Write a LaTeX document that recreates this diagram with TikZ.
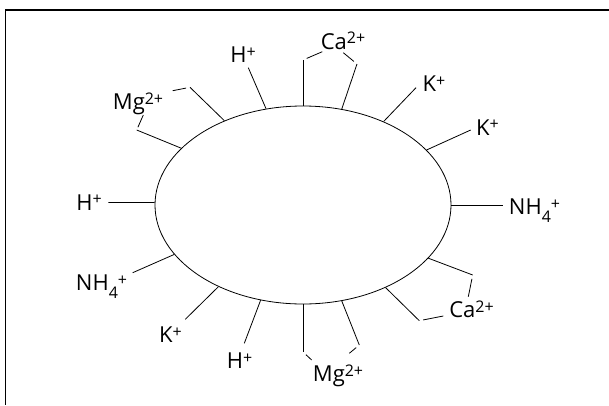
\documentclass[tikz,border=0pt]{standalone}
\usepackage{fontspec}
\setmainfont{Open Sans}
\usetikzlibrary{shapes.geometric,calc}
\newcommand{\ionsup}[1]{\raisebox{5.5pt}{\fontsize{16}{16}\selectfont #1}}
\newcommand{\ionsub}[1]{\raisebox{-8pt}{\fontsize{16}{16}\selectfont #1}}

\begin{document}
\begin{tikzpicture}[x=1pt,y=1pt, line width=0.8pt, every node/.style={font=\fontsize{22}{26}\selectfont, inner sep=0pt}]
    \useasboundingbox (-303,-200) rectangle (306,205);
    \draw[line width=1.6pt] (306,195) -- (-297.5,195) -- (-297.5,-200);
    \node[draw, ellipse, minimum width=296pt, minimum height=198pt] (colloid) at (0,0) {};
    % ions
    \node (hW) at (-214,2.5) {H\ionsup{+}};
    \node (nhW) at (-201.5,-81.7) {NH\ionsub{4}\ionsup{+}};
    \node (kSW) at (-132.5,-130) {K\ionsup{+}};
    \node (hS) at (-63.5,-156) {H\ionsup{+}};
    \node (mgS) at (35,-171) {Mg\ionsup{2+}};
    \node (caSE) at (168.5,-104.5) {Ca\ionsup{2+}};
    \node (nhE) at (231.5,-5.8) {NH\ionsub{4}\ionsup{+}};
    \node (kE) at (184.5,77.7) {K\ionsup{+}};
    \node (kNE) at (131,121) {K\ionsup{+}};
    \node (caN) at (40,164) {Ca\ionsup{2+}};
    \node (hN) at (-60,150) {H\ionsup{+}};
    \node (mgNW) at (-165,101) {Mg\ionsup{2+}};
    % line ends
    \coordinate (hWe) at (-194.7,2.6);
    \coordinate (nhWe) at (-170.3,-67.7);
    \coordinate (kSWe) at (-117.7,-114.3);
    \coordinate (hSe) at (-58.7,-138.3);
    \coordinate (mgS1) at (0,-147);
    \coordinate (mgS1e) at (8.7,-155);
    \coordinate (mgS2) at (56.3,-140);
    \coordinate (mgS2e) at (46.3,-148.3);
    \coordinate (caSE1) at (169.7,-70);
    \coordinate (caSE1e) at (165.3,-91.7);
    \coordinate (caSE2) at (116.3,-115.7);
    \coordinate (caSE2e) at (140.3,-111);
    \coordinate (nhEe) at (199.7,0);
    \coordinate (kEe) at (167.7,75);
    \coordinate (kNEe) at (113,117.3);
    \coordinate (caN1) at (0,145);
    \coordinate (caN1e) at (19.3,153.3);
    \coordinate (caN2) at (54,141);
    \coordinate (caN2e) at (40.3,152.3);
    \coordinate (hNe) at (-54.7,137.3);
    \coordinate (mgNW1) at (-113,117.7);
    \coordinate (mgNW1e) at (-130.3,114.3);
    \coordinate (mgNW2) at (-166.3,75);
    \coordinate (mgNW2e) at (-159.7,90);
    % single bonds
    \draw (colloid.179) -- (hWe);
    \draw (colloid.201.6) -- (nhWe);
    \draw (colloid.224.2) -- (kSWe);
    \draw (colloid.246.4) -- (hSe);
    \draw (colloid.0) -- (nhEe);
    \draw (colloid.24.5) -- (kEe);
    \draw (colloid.46.5) -- (kNEe);
    \draw (colloid.111.8) -- (hNe);
    % double bonds
    \draw (colloid.270) -- (mgS1);
    \draw ($(mgS1)!4pt!(mgS1e)$) -- (mgS1e);
    \draw (colloid.292.8) -- (mgS2);
    \draw ($(mgS2)!4pt!(mgS2e)$) -- (mgS2e);
    \draw (colloid.337.7) -- (caSE1);
    \draw ($(caSE1)!4pt!(caSE1e)$) -- (caSE1e);
    \draw (colloid.315.5) -- (caSE2);
    \draw ($(caSE2)!4pt!(caSE2e)$) -- (caSE2e);
    \draw (colloid.90) -- (caN1);
    \draw ($(caN1)!4pt!(caN1e)$) -- (caN1e);
    \draw (colloid.68.5) -- (caN2);
    \draw ($(caN2)!4pt!(caN2e)$) -- (caN2e);
    \draw (colloid.133.4) -- (mgNW1);
    \draw ($(mgNW1)!4pt!(mgNW1e)$) -- (mgNW1e);
    \draw (colloid.155.5) -- (mgNW2);
    \draw ($(mgNW2)!3pt!(mgNW2e)$) -- (mgNW2e);
\end{tikzpicture}
\end{document}
